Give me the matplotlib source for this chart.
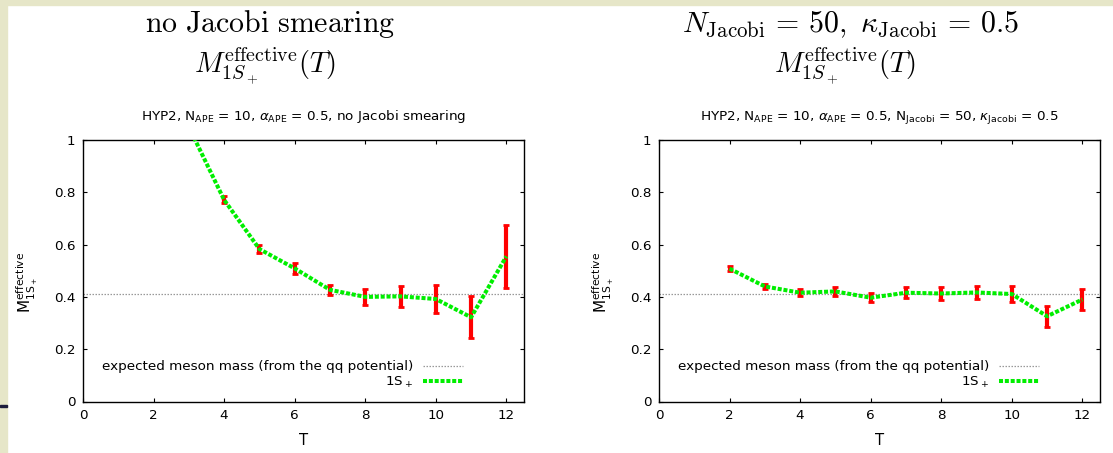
import numpy as np
import matplotlib
matplotlib.use("Agg")
import matplotlib.pyplot as plt
from matplotlib.patches import Rectangle

plt.rcParams['font.family'] = ['DejaVu Sans']
plt.rcParams['mathtext.fontset'] = 'dejavusans'

# data
T_left = [3, 4, 5, 6, 7, 8, 9, 10, 11, 12]
M_left = [1.05, 0.771, 0.583, 0.509, 0.427, 0.400, 0.402, 0.392, 0.322, 0.555]
err_left = [0.01, 0.013, 0.015, 0.022, 0.02, 0.032, 0.04, 0.053, 0.08, 0.12]

T_right = [2, 3, 4, 5, 6, 7, 8, 9, 10, 11, 12]
M_right = [0.508, 0.440, 0.416, 0.421, 0.397, 0.416, 0.413, 0.417, 0.411, 0.326, 0.390]
err_right = [0.01, 0.011, 0.014, 0.018, 0.018, 0.021, 0.024, 0.025, 0.032, 0.04, 0.042]

expected_mass = 0.412

big_titles = [r"$\mathrm{no\ Jacobi\ smearing}$",
              r"$N_{\mathrm{Jacobi}}\,=\,50,\ \kappa_{\mathrm{Jacobi}}\,=\,0.5$"]
sub_titles = [r"HYP2, N$_\mathrm{APE}$ = 10, $\alpha_\mathrm{APE}$ = 0.5, no Jacobi smearing",
              r"HYP2, N$_\mathrm{APE}$ = 10, $\alpha_\mathrm{APE}$ = 0.5, "
              r"N$_\mathrm{Jacobi}$ = 50, $\kappa_\mathrm{Jacobi}$ = 0.5"]

W, H = 1113, 453
fig = plt.figure(figsize=(W / 100, H / 100), dpi=100)
fig.patch.set_facecolor('white')

# slide decoration
beige = '#e6e6c8'
fig.patches.append(Rectangle((0, 0), 7 / W, 1, transform=fig.transFigure, color=beige, zorder=0))
fig.patches.append(Rectangle((0, 1 - 5 / H), 1, 5 / H, transform=fig.transFigure, color=beige, zorder=0))
fig.patches.append(Rectangle((0, 1 - 406.5 / H), 7 / W, 1.6 / H, transform=fig.transFigure,
                             color='#1c1c3c', zorder=1))

fs = 9.7
ax_bottom = 1 - 401.5 / H
ax_height = (401.5 - 140) / H
lefts = [83 / W, 659 / W]
title_x = [270 / W, 851 / W]
math_x = [265 / W, 845 / W]
datasets = [(T_left, M_left, err_left), (T_right, M_right, err_right)]

for k in range(2):
    ax = fig.add_axes([lefts[k], ax_bottom, 441 / W, ax_height])
    T, M, err = datasets[k]

    ax.axhline(expected_mass, color='#999999', lw=0.9, ls=(0, (1.2, 1.2)),
               label='expected meson mass (from the qq potential)', zorder=1)
    ax.errorbar(T, M, yerr=err, fmt='none', ecolor='#ff0000', elinewidth=3.0,
                capsize=2.4, capthick=2.0, zorder=2)
    ax.plot(T, M, color='#00ee00', lw=2.9, ls=(0, (1.0, 0.45)),
            dash_capstyle='butt', label=r'1S$_+$', zorder=3)

    ax.set_xlim(0, 12.5)
    ax.set_ylim(0, 1)
    ax.set_xticks(range(0, 13, 2))
    ax.set_yticks([0, 0.2, 0.4, 0.6, 0.8, 1])
    ax.set_yticklabels(['0', '0.2', '0.4', '0.6', '0.8', '1'])
    ax.tick_params(direction='in', length=3, width=0.8, top=True, right=True,
                   labelsize=fs, pad=5.5, colors='black')
    for s in ax.spines.values():
        s.set_linewidth(1.0)

    ax.set_xlabel('T', fontsize=fs + 1)
    ax.xaxis.set_label_coords(0.5, -0.12)
    ax.text(-0.125, 0.455, r'M$_{\mathrm{1S_+}}^{\mathrm{effective}}$', rotation=90,
            ha='center', va='center', fontsize=fs + 1.3, transform=ax.transAxes)

    ax.text(0.5, 1.075, sub_titles[k], ha='center', va='baseline', fontsize=fs,
            transform=ax.transAxes)

    ax.legend(loc='lower right', bbox_to_anchor=(0.8617, 0.045), frameon=False,
              markerfirst=False, fontsize=fs, handlelength=3.0, handletextpad=0.7,
              borderpad=0, borderaxespad=0, labelspacing=0.1)

    fig.text(title_x[k], 1 - 32 / H, big_titles[k], ha='center', va='baseline',
             fontsize=21.5, math_fontfamily='cm')
    fig.text(math_x[k], 1 - 73 / H, r'$M_{1S_+}^{\mathrm{effective}}(T)$', ha='center',
             va='baseline', fontsize=20.5, math_fontfamily='cm')

fig.savefig('out.png', dpi=100)
